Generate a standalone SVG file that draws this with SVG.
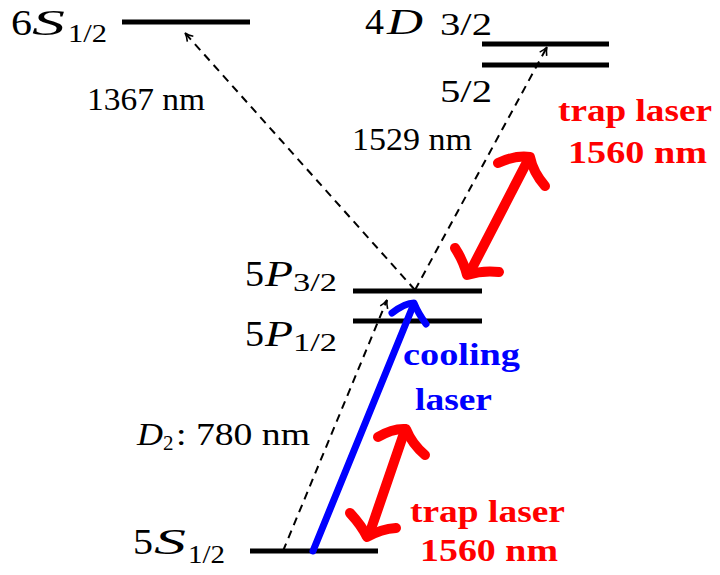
<svg xmlns="http://www.w3.org/2000/svg" width="720" height="575" viewBox="0 0 720 575">
<style>
.lvl{stroke:#000;stroke-width:5;fill:none}
.t{font-family:"Liberation Serif","Times New Roman",serif;fill:#000}
.big{font-size:35px}
.sub{font-size:25px}
.nm{font-size:31px}
.it{font-style:italic}
.dash{stroke:#000;stroke-width:2;stroke-dasharray:8,6;fill:none}
.red{stroke:#ff0000;stroke-width:10;fill:none;stroke-linecap:round;stroke-linejoin:round}
.blue{stroke:#0000ff;stroke-width:7;fill:none;stroke-linecap:round;stroke-linejoin:round}
.rt{font-family:"Liberation Serif","Times New Roman",serif;font-weight:bold;font-size:31px;fill:#ff0000}
.bt{font-family:"Liberation Serif","Times New Roman",serif;font-weight:bold;font-size:31px;fill:#0000ff}
</style>
<defs>
<marker id="oa" viewBox="0 0 10 10" refX="9" refY="5" markerWidth="10" markerHeight="10" markerUnits="userSpaceOnUse" orient="auto">
<path d="M1,1 Q5,4 9,5 Q5,6 1,9" fill="none" stroke="#000" stroke-width="1.6"/>
</marker>
</defs>
<g id="level-6S">
<line class="lvl" x1="122" y1="22" x2="250" y2="22"/>
<text class="t big" x="11" y="35" textLength="21" lengthAdjust="spacingAndGlyphs">6</text>
<text class="t big it" x="32" y="35" textLength="33" lengthAdjust="spacingAndGlyphs">S</text>
<text class="t sub" x="68" y="42" textLength="39" lengthAdjust="spacingAndGlyphs">1/2</text>
</g>
<g id="level-4D">
<line class="lvl" x1="482" y1="44" x2="609" y2="44"/>
<line class="lvl" x1="482" y1="65" x2="609" y2="65"/>
<text class="t big" x="365" y="34" textLength="19" lengthAdjust="spacingAndGlyphs">4</text>
<text class="t big it" x="387" y="34" textLength="36" lengthAdjust="spacingAndGlyphs">D</text>
<text class="t nm" x="440" y="35" textLength="52" lengthAdjust="spacingAndGlyphs">3/2</text>
<text class="t nm" x="440" y="102" textLength="52" lengthAdjust="spacingAndGlyphs">5/2</text>
</g>
<g id="level-5P">
<line class="lvl" x1="353" y1="291" x2="482" y2="291"/>
<line class="lvl" x1="353" y1="321" x2="482" y2="321"/>
<text class="t big" x="245" y="286" textLength="19" lengthAdjust="spacingAndGlyphs">5</text>
<text class="t big it" x="265" y="286" textLength="28" lengthAdjust="spacingAndGlyphs">P</text>
<text class="t sub" x="293" y="291" textLength="44" lengthAdjust="spacingAndGlyphs">3/2</text>
<text class="t big" x="245" y="346" textLength="19" lengthAdjust="spacingAndGlyphs">5</text>
<text class="t big it" x="265" y="346" textLength="28" lengthAdjust="spacingAndGlyphs">P</text>
<text class="t sub" x="293" y="351" textLength="44" lengthAdjust="spacingAndGlyphs">1/2</text>
</g>
<g id="level-5S">
<line class="lvl" x1="250" y1="551" x2="378" y2="551"/>
<text class="t big" x="133" y="554" textLength="20" lengthAdjust="spacingAndGlyphs">5</text>
<text class="t big it" x="154" y="554" textLength="32" lengthAdjust="spacingAndGlyphs">S</text>
<text class="t sub" x="188" y="563" textLength="37" lengthAdjust="spacingAndGlyphs">1/2</text>
</g>
<g id="connectors">
<line class="dash" x1="415" y1="290" x2="185" y2="33" marker-end="url(#oa)"/>
<line class="dash" x1="415" y1="290" x2="547" y2="47" marker-end="url(#oa)"/>
<line class="dash" x1="283" y1="551" x2="387" y2="300" marker-end="url(#oa)"/>
<line class="blue" x1="313" y1="551" x2="413" y2="306"/>
<path class="blue" d="M392,313 Q405,303 414,303 Q418,313 426,324"/>
<line class="red" x1="470" y1="272" x2="528" y2="160"/>
<path class="red" d="M498,163 Q515,155 530,157 Q533,172 545,186"/>
<path class="red" d="M455,248 Q464,262 467,275 Q483,270 499,272"/>
<line class="red" x1="404" y1="433" x2="370" y2="532"/>
<path class="red" d="M378,437 Q393,428 406,429 Q412,444 425,455"/>
<path class="red" d="M350,513 Q362,526 367,537 Q381,529 396,528"/>
</g>
<g id="labels">
<text class="t nm" x="87" y="110" textLength="118" lengthAdjust="spacingAndGlyphs">1367 nm</text>
<text class="t nm" x="352" y="150" textLength="120" lengthAdjust="spacingAndGlyphs">1529 nm</text>
<text class="t nm it" x="137" y="445" textLength="26" lengthAdjust="spacingAndGlyphs">D</text>
<text class="t" font-size="21" x="163" y="450">2</text>
<text class="t nm" x="176" y="445" textLength="134" lengthAdjust="spacingAndGlyphs">: 780 nm</text>
<text class="bt" x="403" y="365" textLength="117" lengthAdjust="spacingAndGlyphs">cooling</text>
<text class="bt" x="415" y="410" textLength="77" lengthAdjust="spacingAndGlyphs">laser</text>
<text class="rt" x="558" y="121" textLength="154" lengthAdjust="spacingAndGlyphs">trap laser</text>
<text class="rt" x="568" y="163" textLength="139" lengthAdjust="spacingAndGlyphs">1560 nm</text>
<text class="rt" x="410" y="522" textLength="155" lengthAdjust="spacingAndGlyphs">trap laser</text>
<text class="rt" x="420" y="561" textLength="138" lengthAdjust="spacingAndGlyphs">1560 nm</text>
</g>
</svg>
